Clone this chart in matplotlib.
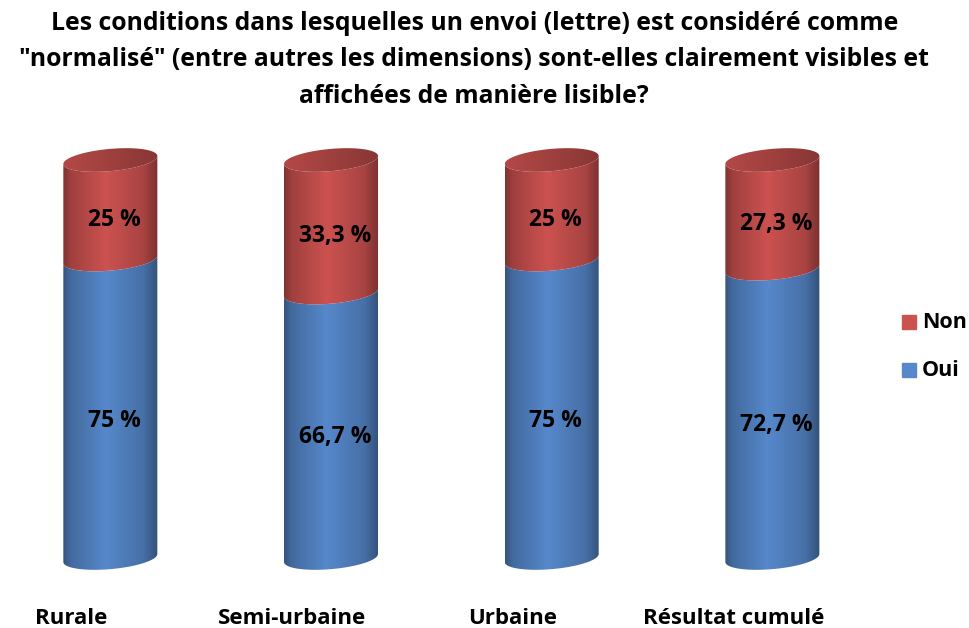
import numpy as np
import matplotlib
matplotlib.use("Agg")
import matplotlib.pyplot as plt
from matplotlib.path import Path
from matplotlib.patches import PathPatch, Rectangle

# donnees
categories = ["Rurale", "Semi-urbaine", "Urbaine", "Résultat cumulé"]
oui = [75, 66.7, 75, 72.7]
non = [25, 33.3, 25, 27.3]
lbl_oui = ["75 %", "66,7 %", "75 %", "72,7 %"]
lbl_non = ["25 %", "33,3 %", "25 %", "27,3 %"]

titre = ('Les conditions dans lesquelles un envoi (lettre) est considéré comme\n'
         '"normalisé" (entre autres les dimensions) sont-elles clairement visibles et\n'
         'affichées de manière lisible?')

plt.rcParams['font.family'] = ['Open Sans', 'DejaVu Sans']

BLEU = np.array([0x56, 0x88, 0xcb]) / 255
ROUGE = np.array([0xcc, 0x52, 0x50]) / 255

fig = plt.figure(figsize=(9.7, 6.28), dpi=100)
ax = fig.add_axes([0.0, 0.0798, 0.910, 0.6971])
ax.set_xlim(-0.5, 3.5)
ax.set_ylim(-5, 105)
ax.axis('off')

a = 0.213   # demi-largeur du cylindre
b = 2.8     # demi-hauteur de l'ellipse
s = 4.7     # inclinaison des ellipses

# profil d'ombrage horizontal
u = np.linspace(0, 1, 200)
profil = np.interp(u, [0, 0.08, 0.45, 0.85, 1], [0.62, 0.78, 1.0, 0.82, 0.6])


def arc(cx, y, t0, t1, n=60):
    t = np.linspace(t0, t1, n)
    x = cx + a * np.cos(t)
    return x, y + b * np.sin(t) + s * (x - cx)


def gradient(cx, ylo, yhi, couleur, clip, fact=1.0, prof=profil):
    img = np.clip(prof[None, :, None] * couleur[None, None, :] * fact, 0, 1)
    im = ax.imshow(img, extent=[cx - a, cx + a, ylo - b - 3, yhi + b + 3],
                   aspect='auto', interpolation='bilinear', zorder=2)
    im.set_clip_path(clip)


def segment(cx, ylo, yhi, couleur):
    x1, y1 = arc(cx, ylo, np.pi, 2 * np.pi)
    x2, y2 = arc(cx, yhi, 2 * np.pi, np.pi)
    verts = np.column_stack([np.r_[x1, x2], np.r_[y1, y2]])
    p = PathPatch(Path(verts, closed=False), facecolor='none', edgecolor='none')
    ax.add_patch(p)
    gradient(cx, ylo, yhi, couleur, p)


for i in range(len(categories)):
    segment(i, 0, oui[i], BLEU)
    segment(i, oui[i], oui[i] + non[i], ROUGE)
    # dessus du cylindre
    top = oui[i] + non[i]
    xt, yt = arc(i, top, 0, 2 * np.pi, 120)
    p = PathPatch(Path(np.column_stack([xt, yt])), facecolor='none', edgecolor='none')
    ax.add_patch(p)
    prof_top = np.interp(u, [0, 0.5, 1], [0.88, 0.78, 0.66])
    gradient(i, top - 2 * b, top, ROUGE, p, 1.0, prof_top)

    ax.text(i + 0.018, oui[i] / 2 - 3, lbl_oui[i], ha='center', va='center',
            fontsize=16.5, fontweight='bold', zorder=5)
    ax.text(i + 0.018, oui[i] + non[i] / 2 - 2.5, lbl_non[i], ha='center', va='center',
            fontsize=16.5, fontweight='bold', zorder=5)
    ax.text(i - 0.176, -15.3, categories[i], ha='center', va='center',
            fontsize=16, fontweight='bold', clip_on=False)

# legende
fig.patches.append(Rectangle((902 / 970, 1 - 329 / 628), 14 / 970, 14 / 628,
                             transform=fig.transFigure, color=ROUGE))
fig.patches.append(Rectangle((902 / 970, 1 - 377 / 628), 14 / 970, 14 / 628,
                             transform=fig.transFigure, color=BLEU))
fig.text(922 / 970, 1 - 322 / 628, "Non", fontsize=15.5, fontweight='bold', va='center')
fig.text(922 / 970, 1 - 370 / 628, "Oui", fontsize=15.5, fontweight='bold', va='center')

fig.text(0.489, 1 - 60 / 628, titre, ha='center', va='center', fontsize=17.8,
         fontweight='bold', linespacing=1.58)

fig.savefig("out.png", dpi=100)
